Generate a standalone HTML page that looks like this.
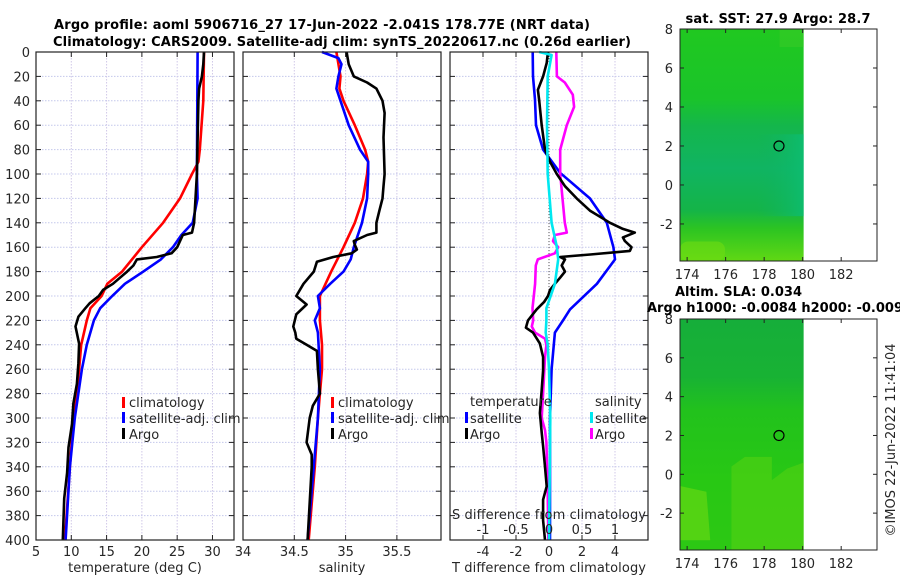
<!DOCTYPE html>
<html><head><meta charset="utf-8"><style>
html,body{margin:0;padding:0;background:#fff;}
svg{display:block;font-family:"DejaVu Sans","Liberation Sans",sans-serif;}
</style></head><body>
<svg id="fig" width="900" height="580" viewBox="0 0 900 580">
<defs>
<linearGradient id="g1" x1="0" y1="0" x2="0" y2="1">
<stop offset="0" stop-color="#20c820"/><stop offset="0.3" stop-color="#1ac42a"/><stop offset="0.42" stop-color="#14b64c"/><stop offset="0.6" stop-color="#10b462"/><stop offset="0.78" stop-color="#14b448"/><stop offset="0.86" stop-color="#2cc422"/><stop offset="1" stop-color="#60d814"/>
</linearGradient>
<linearGradient id="g1r" x1="0" y1="0" x2="1" y2="0">
<stop offset="0" stop-color="#10b060" stop-opacity="0"/><stop offset="1" stop-color="#0cbe74" stop-opacity="0.8"/>
</linearGradient>
<linearGradient id="g2" x1="0" y1="0" x2="0" y2="1">
<stop offset="0" stop-color="#16ae3a"/><stop offset="0.25" stop-color="#18b234"/><stop offset="0.4" stop-color="#22c21c"/><stop offset="0.7" stop-color="#28c814"/><stop offset="1" stop-color="#2cc814"/>
</linearGradient>
</defs>
<g id="plots"></g>
</svg>
<script>
// ---- data (depth in m, values) ----
const tClimDepth=[0,40,80,90,100,120,140,160,180,190,200,210,220,240,260,280,300,340,400];
const tClimVal=[28.8,28.7,28.2,28.0,27.1,25.4,23.0,20.0,17.2,15.1,14.3,12.7,12.2,11.4,11.1,10.8,10.3,9.8,9.1];
const tSatDepth=[0,100,120,140,150,160,170,180,190,200,210,220,240,260,300,340,400];
const tSatVal=[27.9,27.8,27.9,27.2,25.6,24.4,22.7,20.2,17.6,15.8,14.1,13.2,12.2,11.5,10.5,9.8,9.2];
const tArgoDepth=[0,10,20,30,40,100,140,148,150,160,165,168,170,175,180,185,190,195,200,206,210,217,225,239,255,272,288,305,324,345,366,400];
const tArgoVal=[28.8,28.7,28.5,28.1,28.0,27.8,27.4,27.1,25.8,25.0,24.2,22.1,19.3,18.8,17.9,16.9,15.9,14.5,13.9,12.6,12.0,11.0,10.6,11.1,11.0,10.8,10.3,10.1,9.6,9.4,9.0,8.8];
const sClimDepth=[0,20,30,40,60,80,90,100,120,140,160,180,200,220,240,260,280,300,340,400];
const sClimVal=[34.91,34.95,34.94,34.98,35.09,35.19,35.22,35.21,35.17,35.09,34.98,34.86,34.75,34.75,34.77,34.77,34.75,34.73,34.70,34.64];
const sSatDepth=[0,5,10,20,30,40,60,80,90,100,120,140,160,170,180,190,200,210,220,230,260,300,400];
const sSatVal=[34.77,34.93,34.96,34.93,34.91,34.95,35.03,35.14,35.22,35.22,35.21,35.16,35.08,35.05,34.98,34.85,34.73,34.75,34.70,34.73,34.75,34.73,34.63];
const sArgoDepth=[0,10,20,25,30,40,50,70,100,110,120,130,140,148,150,155,158,162,165,168,172,180,190,200,207,215,225,230,235,240,245,260,280,290,300,320,330,340,400];
const sArgoVal=[35.01,35.03,35.08,35.21,35.30,35.36,35.38,35.37,35.38,35.37,35.36,35.33,35.30,35.30,35.21,35.08,35.09,35.11,35.06,34.88,34.72,34.69,34.59,34.52,34.62,34.52,34.49,34.51,34.52,34.62,34.72,34.73,34.75,34.68,34.65,34.62,34.67,34.67,34.63];
const dTSatDepth=[0,20,39,60,80,99,120,140,160,170,190,211,220,230,260,300,400];
const dTSatVal=[-0.99,-0.97,-0.85,-0.79,-0.36,0.67,2.48,3.5,3.9,4.0,2.9,1.27,0.85,0.36,0.16,0.06,0.06];
const dSSatDepth=[0,2.5,20,60,100,140,160,170,190,210,220,230,240,260,300,400];
const dSSatVal=[-0.15,0.04,-0.02,-0.03,-0.02,0.04,0.12,0.14,0.09,-0.04,-0.04,-0.05,-0.02,0,0.02,0];
const dSArgoDepth=[0,20,25,35,45,60,80,100,140,148,150,155,160,165,170,175,190,210,220,225,230,235,240,250,280,300,310,320,360,400];
const dSArgoVal=[0.11,0.12,0.24,0.36,0.38,0.27,0.17,0.17,0.24,0.27,0.09,0.06,0.14,0.09,-0.17,-0.2,-0.21,-0.25,-0.24,-0.26,-0.21,-0.06,-0.04,-0.06,-0.09,-0.11,-0.06,-0.04,-0.02,-0.01];
const dTArgoDepth=[0,4,9,20,31,39,60,80,90,100,110,120,130,140,145,148,152,155,160,163,166,168,170,175,180,185,190,195,200,205,211,220,226,230,239,250,261,277,296,312,323,340,356,367,384,400];
const dTArgoVal=[-0.06,-0.1,-0.14,-0.36,-0.67,-0.6,-0.44,-0.24,0.06,0.47,0.97,1.68,2.48,3.7,4.48,5.2,4.48,4.6,5.0,4.9,2.5,0.67,0.97,0.77,0.97,0.67,0.36,0.06,-0.06,-0.3,-0.75,-1.27,-1.4,-0.97,-0.55,-0.36,-0.36,-0.44,-0.55,-0.44,-0.36,-0.24,-0.14,-0.36,-0.36,-0.24];
const depthTicks=[0,20,40,60,80,100,120,140,160,180,200,220,240,260,280,300,320,340,360,380,400];
const tTicks=[5,10,15,20,25,30];
const sTicks=[34,34.5,35,35.5];
const dTTicks=[-4,-2,0,2,4];
const dSTicks=[-1,-0.5,0,0.5,1];
const dSTickLabels=["-1","-0.5","0","0.5","1"];
const latTicks=[8,6,4,2,0,-2];
const lonTicks=[174,176,178,180,182];
const argoLon=178.77, argoLat=2.0;

const NS="http://www.w3.org/2000/svg";
const root=document.getElementById('plots');
function el(tag,attrs,parent){const e=document.createElementNS(NS,tag);for(const k in attrs)e.setAttribute(k,attrs[k]);(parent||root).appendChild(e);return e;}
function txt(s,attrs,parent){const e=el('text',attrs,parent);e.textContent=s;return e;}

const Y0=52,Y1=540;
const yD=d=>Y0+(d/400)*(Y1-Y0);
function xs(x0,x1,v0,v1){return v=>x0+(v-v0)/(v1-v0)*(x1-x0);}
const P1={x0:36,x1:234,f:xs(36,234,5,33.05)};
const P2={x0:243,x1:441,f:xs(243,441,34,35.93)};
const P3={x0:450,x1:648,f:xs(450,648,-6,6)};
const fS3=xs(450,648,-1.5,1.5);

function panel(P,name,xt,xtl,labelY){
  const g=el('g',{});
  
  
  depthTicks.forEach(d=>{const y=yD(d);
    if(d>0&&d<400){const l=el('line',{x1:P.x0,x2:P.x1,y1:y,y2:y,stroke:'#c4c8ec','stroke-width':1,'stroke-dasharray':'1.5,1.5'},g);}
    el('line',{x1:P.x0,x2:P.x0+5,y1:y,y2:y,stroke:'#222'},g);
    el('line',{x1:P.x1-5,x2:P.x1,y1:y,y2:y,stroke:'#222'},g);
  });
  xt.forEach((v,i)=>{const x=P.f(v);
    if(x>P.x0+1&&x<P.x1-1){const l=el('line',{x1:x,x2:x,y1:Y0,y2:Y1,stroke:'#d0c8e8','stroke-width':1,'stroke-dasharray':'1.5,1.5'},g);}
    el('line',{x1:x,x2:x,y1:Y1,y2:Y1-5,stroke:'#222'},g);
    el('line',{x1:x,x2:x,y1:Y0,y2:Y0+5,stroke:'#222'},g);
    if(xtl){const t=txt(xtl[i],{x:x,y:labelY,'font-size':13,'text-anchor':'middle',fill:'#262626'},g);}
  });
  return g;
}
function series(P,f,depths,vals,color,name,w){
  const pts=depths.map((d,i)=>f(vals[i]).toFixed(1)+','+yD(d).toFixed(1)).join(' ');
  const l=el('polyline',{points:pts,fill:'none',stroke:color,'stroke-width':w||2.6,'stroke-linejoin':'round'});
  
  
}
function frame(P,name){const r=el('rect',{x:P.x0,y:Y0,width:P.x1-P.x0,height:Y1-Y0,fill:'none',stroke:'#222','stroke-width':1.2});}

// Panel 1
panel(P1,'temperature-panel',tTicks,tTicks.map(String),556);
depthTicks.forEach(d=>{const t=txt(String(d),{x:30,y:yD(d)+5,'font-size':13,'text-anchor':'end',fill:'#262626'});});
series(P1,P1.f,tClimDepth,tClimVal,'#ff0000','temp-climatology-line');
series(P1,P1.f,tSatDepth,tSatVal,'#0000ff','temp-satellite-line');
series(P1,P1.f,tArgoDepth,tArgoVal,'#000000','temp-argo-line');
frame(P1,'temperature-axes');
// Panel 2
panel(P2,'salinity-panel',sTicks,["34","34.5","35","35.5"],556);
series(P2,P2.f,sClimDepth,sClimVal,'#ff0000','sal-climatology-line');
series(P2,P2.f,sSatDepth,sSatVal,'#0000ff','sal-satellite-line');
series(P2,P2.f,sArgoDepth,sArgoVal,'#000000','sal-argo-line');
frame(P2,'salinity-axes');
// Panel 3
panel(P3,'difference-panel',dTTicks,dTTicks.map(String),556);
{const z=el('line',{x1:P3.f(0),x2:P3.f(0),y1:Y0,y2:Y1,stroke:'#555','stroke-width':1,'stroke-dasharray':'1,2'});}
series(P3,P3.f,dTSatDepth,dTSatVal,'#0000ff','tdiff-satellite-line');
series(P3,fS3,dSArgoDepth,dSArgoVal,'#ff00ff','sdiff-argo-line');
series(P3,P3.f,dTArgoDepth,dTArgoVal,'#000000','tdiff-argo-line');
series(P3,fS3,dSSatDepth,dSSatVal,'#00e8f0','sdiff-satellite-line');
frame(P3,'difference-axes');
dSTicks.forEach((v,i)=>{const t=txt(dSTickLabels[i],{x:fS3(v),y:534,'font-size':13,'text-anchor':'middle',fill:'#262626'});});

// Maps
function map(top,bottom,grad,name,rightOverlay){
  const g=el('g',{});
  
  
  const x0=680,x1=877;
  const fx=xs(680,877,173.63,183.86), fy=xs(top,bottom,8,-3.9);
  const img=el('rect',{x:x0,y:top,width:fx(180.05)-x0,height:bottom-top,fill:'url(#'+grad+')'},g);
  
  if(rightOverlay){el('rect',{x:fx(177.6),y:fy(2.6),width:fx(180.05)-fx(177.6),height:fy(-1.6)-fy(2.6),fill:'url(#g1r)'},g);
    el('rect',{x:x0,y:fy(-2.9),width:45,height:bottom-fy(-2.9),fill:'#6edc12',opacity:0.6,rx:8},g);
    el('rect',{x:fx(178.8),y:top,width:fx(180.05)-fx(178.8),height:18,fill:'#3ccc28',opacity:0.5},g);}
  else{
    el('path',{d:`M${fx(176.3)},${bottom} L${fx(176.3)},${fy(0.4)} L${fx(177)},${fy(0.9)} L${fx(178.4)},${fy(0.9)} L${fx(178.4)},${fy(-0.3)} L${fx(179.2)},${fy(0.3)} L${fx(180.05)},${fy(0.6)} L${fx(180.05)},${bottom} Z`,fill:'#5cd412',opacity:0.5},g);
    el('path',{d:`M${x0},${fy(-0.6)} L${fx(175)},${fy(-0.9)} L${fx(175.2)},${fy(-3.4)} L${x0},${fy(-3.4)} Z`,fill:'#74dc12',opacity:0.55},g);
  }
  el('circle',{cx:fx(argoLon),cy:fy(argoLat),r:5,fill:'none',stroke:'#000','stroke-width':1.2},g);
  el('rect',{x:x0,y:top,width:x1-x0,height:bottom-top,fill:'none',stroke:'#222','stroke-width':1},g);
  latTicks.forEach(v=>{const y=fy(v);el('line',{x1:x0,x2:x0+4,y1:y,y2:y,stroke:'#222'},g);el('line',{x1:x1-4,x2:x1,y1:y,y2:y,stroke:'#222'},g);
    const t=txt(String(v),{x:x0-7,y:y+5,'font-size':13,'text-anchor':'end',fill:'#262626'},g);});
  lonTicks.forEach(v=>{const x=fx(v);el('line',{x1:x,x2:x,y1:bottom,y2:bottom-4,stroke:'#222'},g);el('line',{x1:x,x2:x,y1:top,y2:top+4,stroke:'#222'},g);
    const t=txt(String(v),{x:x,y:bottom+18,'font-size':13,'text-anchor':'middle',fill:'#262626'},g);});
}
map(29,261,'g1','sst-map',true);
map(319,550,'g2','sla-map',false);
</script>
<svg width="900" height="580" style="position:absolute;left:0;top:0;font-family:'DejaVu Sans','Liberation Sans',sans-serif">
<text x="322" y="29" font-size="13" font-weight="bold" text-anchor="middle" textLength="536" fill="#000">Argo profile: aoml 5906716_27 17-Jun-2022 -2.041S 178.77E (NRT data)</text>
<text x="342" y="46" font-size="13" font-weight="bold" text-anchor="middle" textLength="578" fill="#000">Climatology: CARS2009. Satellite-adj clim: synTS_20220617.nc (0.26d earlier)</text>
<text x="778" y="23" font-size="13" font-weight="bold" text-anchor="middle" textLength="185" fill="#000">sat. SST: 27.9 Argo: 28.7</text>
<text x="675" y="296" font-size="13" font-weight="bold" fill="#000" textLength="127">Altim. SLA: 0.034</text>
<text x="647" y="312" font-size="13" font-weight="bold" fill="#000" textLength="256">Argo h1000: -0.0084 h2000: -0.009</text>
<text x="135" y="572" font-size="13" text-anchor="middle" fill="#262626">temperature (deg C)</text>
<text x="342" y="572" font-size="13" text-anchor="middle" fill="#262626">salinity</text>
<text x="549" y="572" font-size="13" text-anchor="middle" fill="#262626" textLength="194">T difference from climatology</text>
<text x="549" y="519" font-size="13" text-anchor="middle" fill="#262626" textLength="194">S difference from climatology</text>
<g font-size="13" fill="#262626">
<rect x="122" y="397" width="3" height="11" fill="#f00"/><text x="129" y="407">climatology</text>
<rect x="122" y="412" width="3" height="11" fill="#00f"/><text x="129" y="423">satellite-adj. clim</text>
<rect x="122" y="428" width="3" height="11" fill="#000"/><text x="129" y="439">Argo</text>
</g>
<g font-size="13" fill="#262626">
<rect x="331" y="397" width="3" height="11" fill="#f00"/><text x="338" y="407">climatology</text>
<rect x="331" y="412" width="3" height="11" fill="#00f"/><text x="338" y="423">satellite-adj. clim</text>
<rect x="331" y="428" width="3" height="11" fill="#000"/><text x="338" y="439">Argo</text>
</g>
<g font-size="13" fill="#262626">
<text x="470" y="406">temperature</text>
<rect x="465" y="412" width="3" height="11" fill="#00f"/><text x="470" y="423">satellite</text>
<rect x="465" y="428" width="3" height="11" fill="#000"/><text x="470" y="439">Argo</text>
<text x="595" y="406">salinity</text>
<rect x="590" y="412" width="3" height="11" fill="#00e8f0"/><text x="595" y="423">satellite</text>
<rect x="590" y="428" width="3" height="11" fill="#f0f"/><text x="595" y="439">Argo</text>
</g>
<text transform="translate(895,440) rotate(-90)" font-size="13" text-anchor="middle" fill="#262626" textLength="193">©IMOS 22-Jun-2022 11:41:04</text>
</svg>
</body></html>
